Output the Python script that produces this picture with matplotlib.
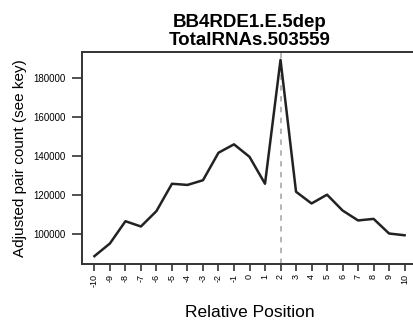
import matplotlib.pyplot as plt

plt.rcParams['font.family'] = ['Liberation Sans', 'DejaVu Sans']

positions = list(range(-10, 11))
pair_counts = [88900, 95400, 106800, 104100, 112000, 126000, 125400, 127800,
               141900, 146200, 139800, 126000, 189500, 121900, 115900, 120400,
               112300, 107200, 108000, 100500, 99600]
y_ticks = [100000, 120000, 140000, 160000, 180000]
marker_pos = 2

fig = plt.figure(figsize=(4.13, 3.26), dpi=100)
ax = fig.add_axes([82 / 413, 62 / 326, 335 / 413, 212 / 326])

ax.axvline(marker_pos, color='#b0b0b0', linestyle=(0, (3, 3)), linewidth=1.3, zorder=1)
ax.plot(positions, pair_counts, color='#222222', linewidth=1.8, zorder=2)

lo, hi = min(pair_counts), max(pair_counts)
pad = 0.04 * (hi - lo)
ax.set_ylim(lo - pad, hi + pad)
ax.set_xlim(-10.8, 10.8)

ax.set_xticks(positions)
ax.set_xticklabels([str(p) for p in positions], rotation=90, fontsize=6.5)
ax.set_yticks(y_ticks)
ax.set_yticklabels([str(v) for v in y_ticks], fontsize=7)
ax.tick_params(axis='x', direction='out', length=5, width=1.2, color='#333333', pad=2)
ax.tick_params(axis='y', direction='out', length=7, width=1.2, color='#333333', pad=5)

for side in ['left', 'bottom', 'top']:
    ax.spines[side].set_linewidth(1.4)
    ax.spines[side].set_color('#333333')
ax.spines['right'].set_visible(False)

ax.set_xlabel('Relative Position', fontsize=12.5, labelpad=13)
ax.yaxis.set_label_coords(-55 / 335, 0.5)
ax.set_ylabel('Adjusted pair count (see key)', fontsize=11)
ax.set_title('BB4RDE1.E.5dep\nTotalRNAs.503559', fontsize=13.5, fontweight='bold',
             linespacing=1.05, pad=5, x=(250 - 82) / 335)

fig.savefig('out.png', dpi=100)
